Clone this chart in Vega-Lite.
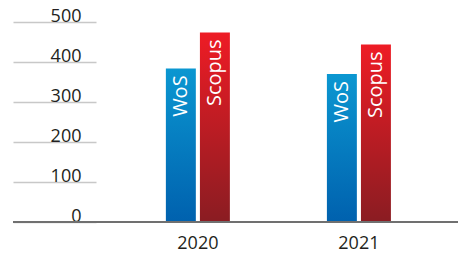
{
  "$schema": "https://vega.github.io/schema/vega-lite/v6.json",
  "width": 445,
  "height": 200,
  "autosize": "none",
  "padding": {"left": 13, "top": 22, "right": 0, "bottom": 32},
  "background": "white",
  "config": {"view": {"stroke": null}, "font": "Open Sans"},
  "data": {"values": [
    {"year": "2020", "series": "WoS", "value": 384},
    {"year": "2020", "series": "Scopus", "value": 474},
    {"year": "2021", "series": "WoS", "value": 370},
    {"year": "2021", "series": "Scopus", "value": 444}
  ]},
  "encoding": {
    "x": {"field": "year", "type": "nominal",
      "scale": {"paddingInner": 0.6025, "paddingOuter": 0.683, "align": 0.695},
      "axis": {"title": null, "domain": false, "ticks": false, "labelAngle": 0, "labelFontSize": 18, "labelColor": "#231f20", "labelPadding": 12, "labelBaseline": "top", "labelFont": "Open Sans"}},
    "xOffset": {"field": "series", "type": "nominal", "scale": {"domain": ["WoS", "Scopus"], "paddingInner": 0.12, "paddingOuter": 0}},
    "y": {"field": "value", "type": "quantitative",
      "scale": {"domain": [0, 500], "nice": false},
      "axis": {"title": null, "domain": false, "grid": false, "values": [0, 100, 200, 300, 400, 500], "ticks": true, "tickSize": -83, "tickColor": "#c8c8c8", "tickWidth": 1.5, "labelAlign": "right", "labelBaseline": "alphabetic", "labelOffset": -1, "labelPadding": 15, "labelFontSize": 18, "labelColor": "#231f20", "labelFont": "Open Sans", "zindex": 0}}
  },
  "layer": [
    {
      "transform": [{"filter": "datum.series === 'WoS'"}],
      "mark": {"type": "bar", "color": {"gradient": "linear", "x1": 0, "y1": 0, "x2": 0, "y2": 1, "stops": [{"offset": 0, "color": "#0b97d1"}, {"offset": 1, "color": "#0061ae"}]}}
    },
    {
      "transform": [{"filter": "datum.series === 'Scopus'"}],
      "mark": {"type": "bar", "color": {"gradient": "linear", "x1": 0, "y1": 0, "x2": 0, "y2": 1, "stops": [{"offset": 0, "color": "#ee1c25"}, {"offset": 1, "color": "#8a1c22"}]}}
    },
    {
      "mark": {"type": "text", "angle": 270, "align": "right", "baseline": "middle", "dx": -7, "color": "white", "fontSize": 20, "font": "Open Sans"},
      "encoding": {"text": {"field": "series"}}
    },
    {
      "mark": {"type": "rule", "color": "#707070", "strokeWidth": 2},
      "encoding": {"y": {"datum": 0}, "x": null, "xOffset": null}
    }
  ]
}
